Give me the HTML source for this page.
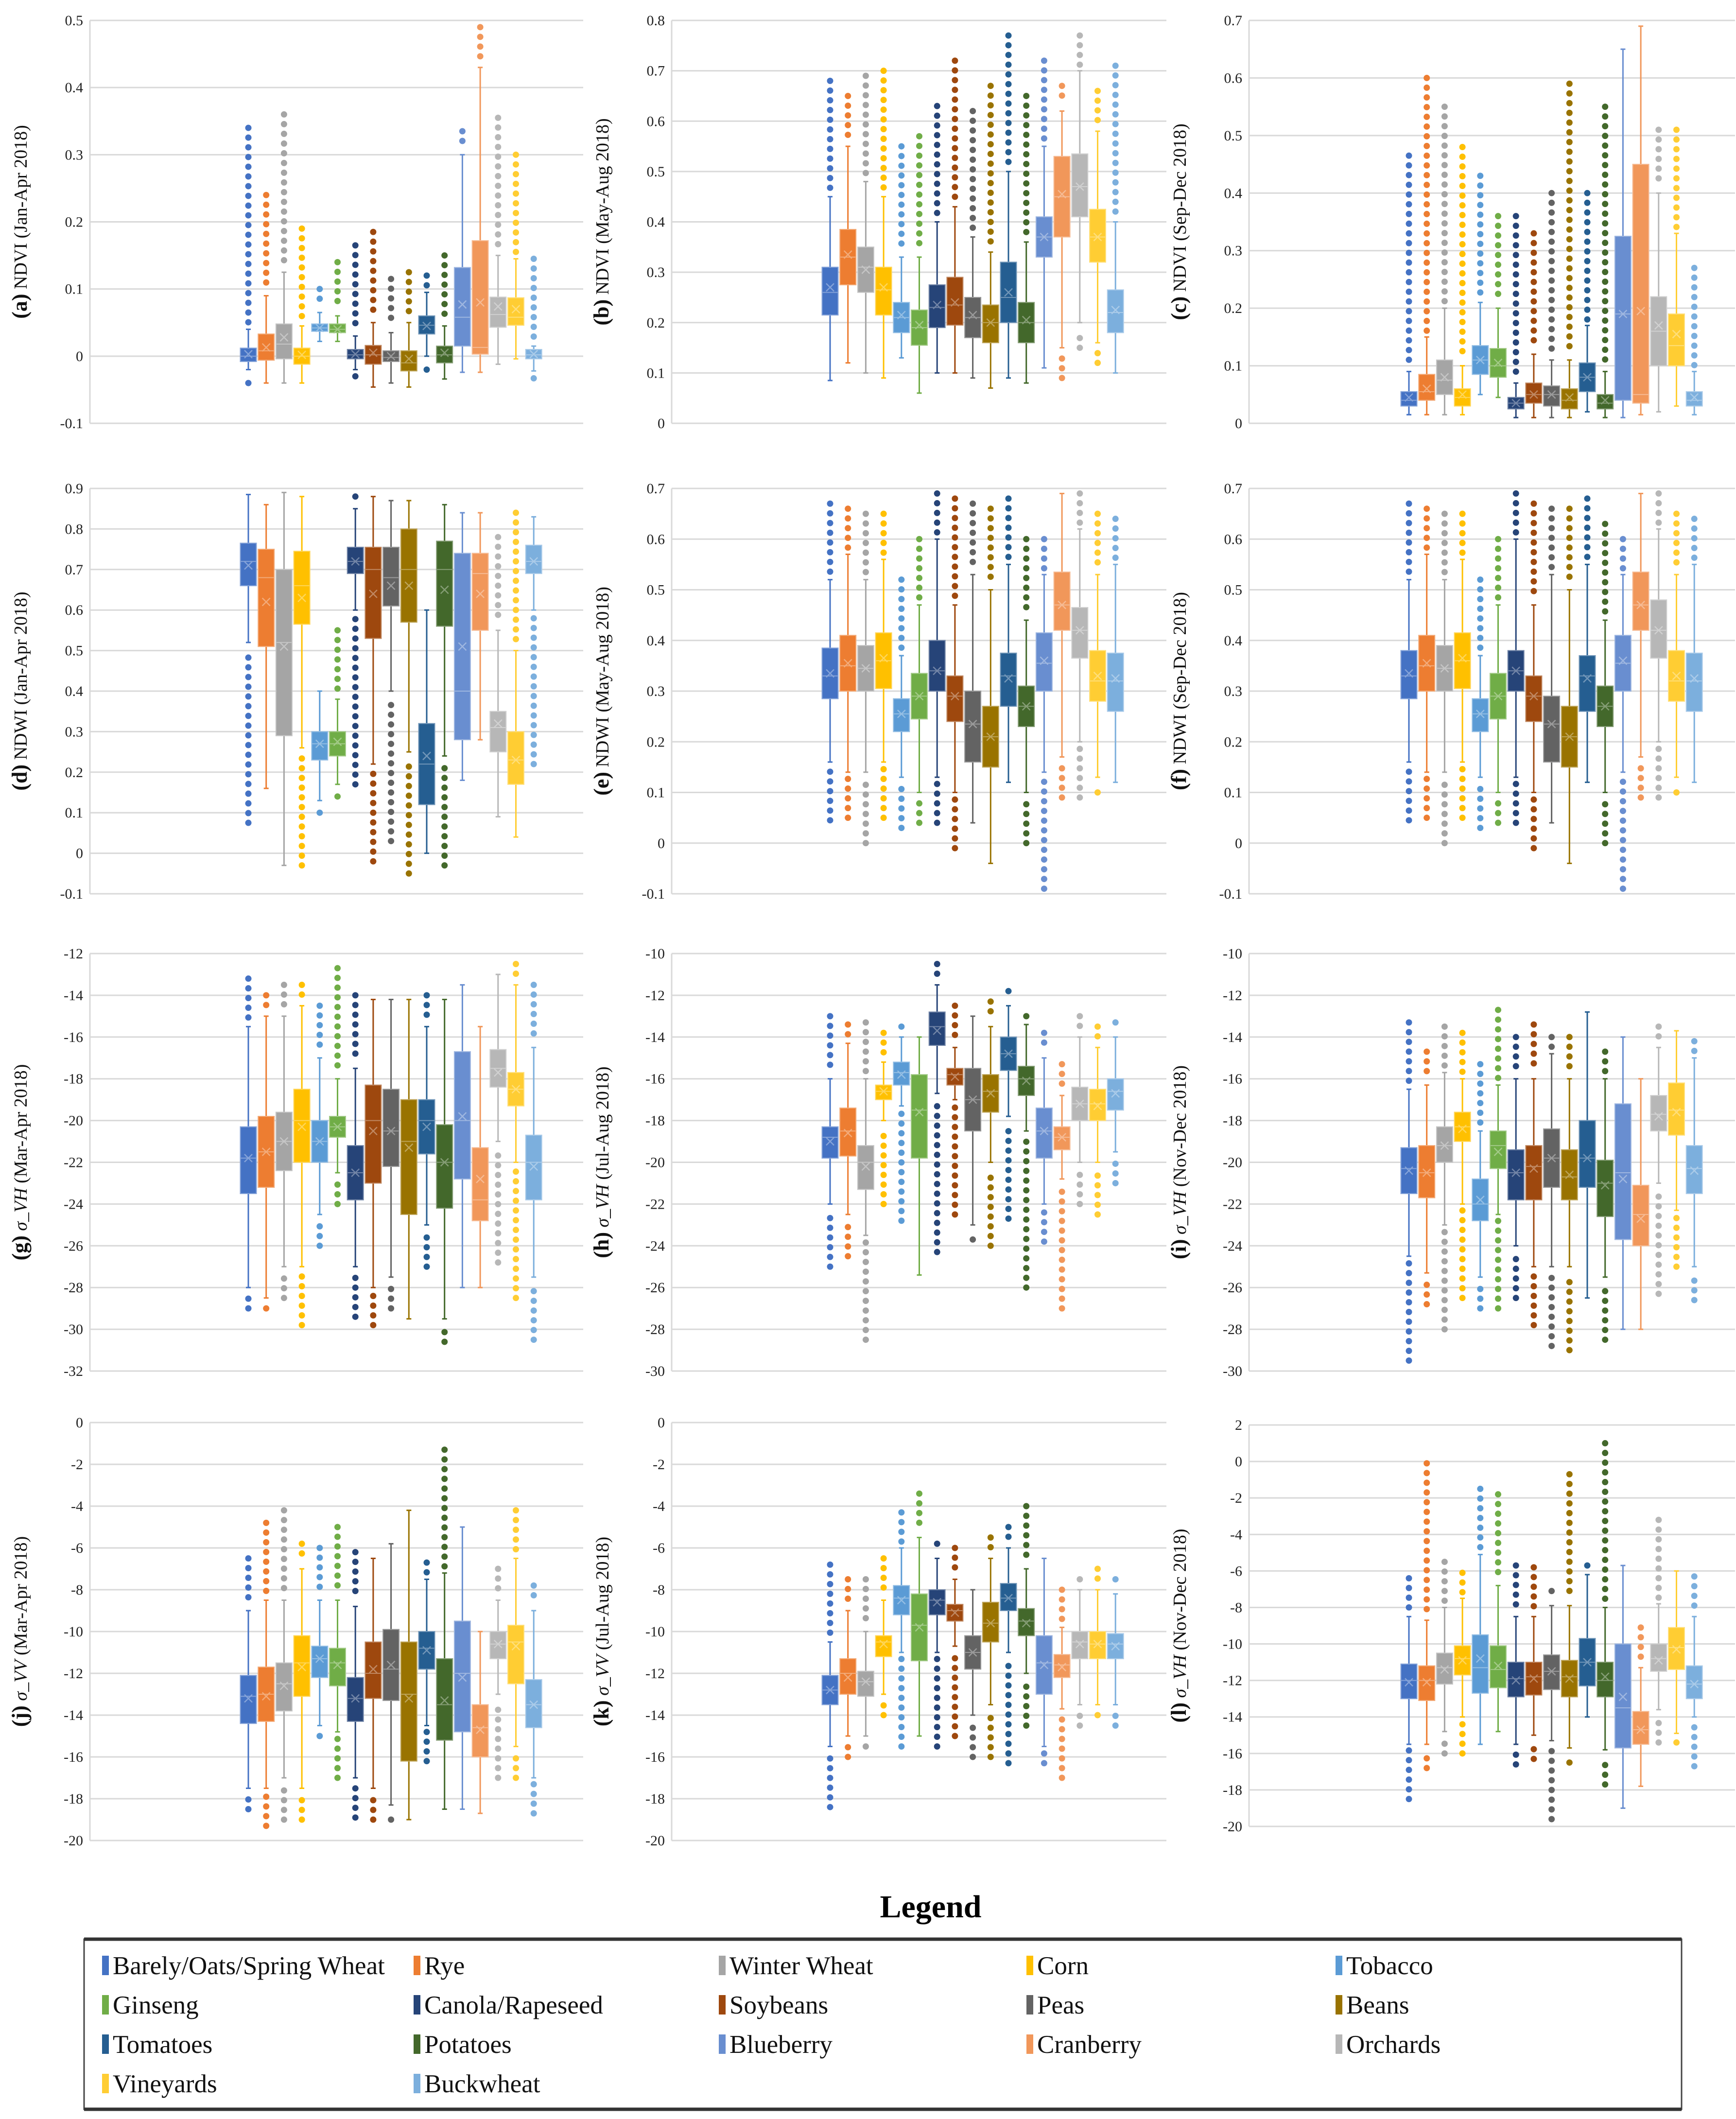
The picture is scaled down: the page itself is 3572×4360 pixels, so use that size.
<!DOCTYPE html>
<html><head><meta charset="utf-8">
<style>
html,body{margin:0;padding:0;background:#fff;}
svg{display:block;font-family:"Liberation Serif",serif;}
</style></head>
<body>
<svg id="fig" width="3572" height="4360" viewBox="0 0 3572 4360" xmlns="http://www.w3.org/2000/svg">
<g id="panels"></g>
<g id="legend">
<text x="1915" y="3945" font-size="66" font-weight="bold" text-anchor="middle">Legend</text>
<rect x="173" y="3990" width="3287" height="350" fill="#fff" stroke="#444" stroke-width="3"/>
<line x1="173" y1="3990" x2="3460" y2="3990" stroke="#333" stroke-width="7"/>
<line x1="173" y1="4340" x2="3460" y2="4340" stroke="#333" stroke-width="7"/>
</g>
</svg>
<script>
const cats = ["Barely/Oats/Spring Wheat","Rye","Winter Wheat","Corn","Tobacco","Ginseng","Canola/Rapeseed","Soybeans","Peas","Beans","Tomatoes","Potatoes","Blueberry","Cranberry","Orchards","Vineyards","Buckwheat"];
const colors = ["#4472C4","#ED7D31","#A5A5A5","#FFC000","#5B9BD5","#70AD47","#264478","#9E480E","#636363","#997300","#255E91","#43682B","#698ED0","#F1975A","#B7B7B7","#FFCD33","#7CAFDD"];
// each row: [whiskerLo, q1, median, q3, whiskerHi, mean, outlierMin, outlierMax]
const a_stats=[[-0.02,-0.008,0,0.012,0.04,0.003,-0.04,0.34],[-0.04,-0.006,0.008,0.033,0.09,0.013,null,0.24],[-0.04,-0.004,0.018,0.048,0.125,0.028,null,0.36],[-0.04,-0.012,0,0.012,0.045,0.002,null,0.19],[0.022,0.037,0.042,0.048,0.065,0.042,null,0.10],[0.022,0.035,0.04,0.048,0.06,0.04,null,0.14],[-0.02,-0.004,0.002,0.01,0.03,0.003,-0.03,0.165],[-0.046,-0.012,0.002,0.016,0.05,0.005,null,0.185],[-0.04,-0.008,-0.002,0.008,0.035,0,null,0.115],[-0.046,-0.022,-0.01,0.008,0.05,-0.004,null,0.125],[0,0.033,0.046,0.06,0.095,0.045,-0.02,0.12],[-0.034,-0.01,0.002,0.015,0.045,0.005,null,0.15],[-0.024,0.015,0.058,0.132,0.30,0.077,null,0.335],[-0.024,0.003,0.013,0.172,0.43,0.08,null,0.49],[-0.012,0.043,0.062,0.088,0.15,0.074,null,0.355],[-0.004,0.046,0.058,0.087,0.145,0.07,null,0.30],[-0.022,-0.004,0.002,0.01,0.015,0.003,-0.033,0.145]];
const b_stats=[[0.085,0.215,0.26,0.31,0.45,0.27,null,0.68],[0.12,0.275,0.33,0.385,0.55,0.335,null,0.65],[0.1,0.26,0.31,0.35,0.48,0.305,null,0.69],[0.09,0.215,0.265,0.31,0.45,0.27,null,0.70],[0.13,0.18,0.21,0.24,0.33,0.215,null,0.55],[0.06,0.155,0.19,0.225,0.33,0.195,null,0.57],[0.1,0.19,0.23,0.275,0.4,0.235,null,0.63],[0.1,0.195,0.235,0.29,0.43,0.24,null,0.72],[0.09,0.17,0.21,0.25,0.37,0.215,null,0.62],[0.07,0.16,0.2,0.235,0.34,0.2,null,0.67],[0.09,0.2,0.25,0.32,0.5,0.26,null,0.77],[0.08,0.16,0.2,0.24,0.36,0.205,null,0.65],[0.11,0.33,0.37,0.41,0.55,0.37,0.10,0.72],[0.15,0.37,0.45,0.53,0.62,0.455,0.09,0.67],[0.2,0.41,0.47,0.535,0.7,0.47,0.15,0.77],[0.16,0.32,0.37,0.425,0.58,0.37,0.12,0.66],[0.1,0.18,0.22,0.265,0.4,0.225,null,0.71]];
const c_stats=[[0.015,0.03,0.04,0.055,0.09,0.045,null,0.465],[0.015,0.04,0.055,0.085,0.15,0.06,null,0.6],[0.015,0.05,0.075,0.11,0.2,0.08,null,0.55],[0.015,0.03,0.045,0.06,0.1,0.05,null,0.48],[0.05,0.085,0.11,0.135,0.21,0.11,null,0.43],[0.045,0.08,0.1,0.13,0.2,0.105,null,0.36],[0.01,0.025,0.035,0.045,0.07,0.035,null,0.36],[0.01,0.035,0.05,0.07,0.12,0.05,null,0.33],[0.01,0.03,0.05,0.065,0.11,0.05,null,0.4],[0.01,0.025,0.04,0.06,0.11,0.045,null,0.59],[0.02,0.055,0.08,0.105,0.17,0.08,null,0.4],[0.01,0.025,0.035,0.05,0.09,0.04,null,0.55],[0.01,0.04,0.19,0.325,0.65,0.19,null,null],[0.015,0.035,0.05,0.45,0.69,0.195,null,null],[0.02,0.1,0.16,0.22,0.4,0.17,null,0.51],[0.03,0.1,0.135,0.19,0.33,0.155,null,0.51],[0.015,0.03,0.04,0.055,0.09,0.045,null,0.27]];
const d_stats=[[0.52,0.66,0.72,0.765,0.885,0.71,0.075,null],[0.16,0.51,0.68,0.75,0.86,0.62,null,null],[-0.03,0.29,0.52,0.7,0.89,0.51,null,null],[0.26,0.565,0.66,0.745,0.88,0.63,-0.03,null],[0.13,0.23,0.27,0.3,0.4,0.27,0.1,null],[0.17,0.24,0.27,0.3,0.38,0.275,0.14,0.55],[0.6,0.69,0.72,0.755,0.85,0.72,0.17,0.88],[0.22,0.53,0.7,0.755,0.88,0.64,-0.02,null],[0.4,0.61,0.68,0.755,0.87,0.66,0.03,null],[0.25,0.57,0.7,0.8,0.87,0.66,-0.05,null],[0,0.12,0.22,0.32,0.6,0.24,null,null],[0.24,0.56,0.7,0.77,0.86,0.65,-0.03,null],[0.18,0.28,0.4,0.74,0.84,0.51,null,null],[0.28,0.55,0.69,0.74,0.84,0.64,null,null],[0.09,0.25,0.31,0.35,0.55,0.32,0.08,0.78],[0.04,0.17,0.23,0.3,0.5,0.23,null,0.84],[0.6,0.69,0.72,0.76,0.83,0.72,0.22,null]];
const e_stats=[[0.16,0.285,0.33,0.385,0.52,0.335,0.045,0.67],[0.14,0.3,0.35,0.41,0.57,0.355,0.05,0.66],[0.14,0.3,0.345,0.39,0.52,0.345,0.0,0.65],[0.16,0.305,0.36,0.415,0.56,0.365,0.05,0.65],[0.13,0.22,0.255,0.285,0.37,0.255,0.03,0.52],[0.1,0.245,0.29,0.335,0.47,0.29,0.04,0.6],[0.13,0.3,0.34,0.4,0.6,0.34,0.04,0.69],[0.1,0.24,0.29,0.33,0.47,0.29,-0.01,0.68],[0.04,0.16,0.235,0.3,0.53,0.235,null,0.67],[-0.04,0.15,0.21,0.27,0.5,0.21,null,0.66],[0.12,0.27,0.33,0.375,0.55,0.325,null,0.68],[0.1,0.23,0.27,0.31,0.44,0.27,0.0,0.6],[0.14,0.3,0.355,0.415,0.53,0.36,-0.09,0.6],[0.17,0.42,0.47,0.535,0.69,0.47,0.09,null],[0.2,0.365,0.42,0.465,0.62,0.42,0.09,0.69],[0.13,0.28,0.32,0.38,0.53,0.33,0.1,0.65],[0.12,0.26,0.32,0.375,0.55,0.325,null,0.64]];
const f_stats=[[0.16,0.285,0.33,0.38,0.52,0.335,0.045,0.67],[0.14,0.3,0.35,0.41,0.57,0.355,0.05,0.66],[0.14,0.3,0.345,0.39,0.52,0.345,0.0,0.65],[0.16,0.305,0.36,0.415,0.56,0.365,0.05,0.65],[0.13,0.22,0.255,0.285,0.37,0.255,0.03,0.52],[0.1,0.245,0.29,0.335,0.47,0.29,0.04,0.6],[0.13,0.3,0.34,0.38,0.6,0.34,0.04,0.69],[0.1,0.24,0.29,0.33,0.47,0.29,-0.01,0.67],[0.04,0.16,0.235,0.29,0.53,0.235,null,0.66],[-0.04,0.15,0.21,0.27,0.5,0.21,null,0.66],[0.12,0.26,0.33,0.37,0.55,0.325,null,0.68],[0.1,0.23,0.27,0.31,0.44,0.27,0.0,0.63],[0.14,0.3,0.355,0.41,0.53,0.36,-0.09,0.6],[0.17,0.42,0.47,0.535,0.69,0.47,0.09,null],[0.2,0.365,0.42,0.48,0.62,0.42,0.09,0.69],[0.13,0.28,0.32,0.38,0.53,0.33,0.1,0.65],[0.12,0.26,0.32,0.375,0.55,0.325,null,0.64]];
const g_stats=[[-28,-23.5,-21.8,-20.3,-15.5,-21.8,-29,-13.2],[-28.5,-23.2,-21.5,-19.8,-15,-21.5,-29,-14],[-27,-22.4,-21,-19.6,-15,-21,-28.5,-13.5],[-27,-22,-20,-18.5,-14.5,-20.3,-29.8,-13.5],[-24.5,-22,-21,-20,-17,-21,-26,-14.5],[-22.5,-20.8,-20.3,-19.8,-18,-20.3,-24,-12.7],[-27,-23.8,-22.5,-21.2,-17.5,-22.5,-29.4,-14],[-28,-23,-20,-18.3,-14.2,-20.5,-29.8,null],[-27.5,-22.2,-20.5,-18.5,-14.2,-20.5,-29,null],[-29.5,-24.5,-21,-19,-14.2,-21.3,null,null],[-25,-21.6,-20,-19,-15.5,-20.3,-27,-14],[-29.5,-24.2,-22,-20.2,-14.2,-22,-30.6,null],[-28,-22.8,-20,-16.7,-13.5,-19.8,null,null],[-28,-24.8,-23.8,-21.3,-15.5,-22.8,null,null],[-21,-18.4,-17.5,-16.6,-13,-17.7,-26.8,null],[-22,-19.3,-18.5,-17.7,-13.5,-18.5,-28.5,-12.5],[-27.5,-23.8,-22,-20.7,-16.5,-22.2,-30.5,-13.5]];
const h_stats=[[-22,-19.8,-18.8,-18.3,-16,-19,-25,-13],[-22.5,-19.7,-18.5,-17.4,-14.3,-18.6,-24.5,-13.4],[-23.5,-21.3,-20,-19.2,-16,-20.2,-28.5,-13.3],[-18,-17,-16.6,-16.3,-15.2,-16.6,-22,-13.8],[-17.3,-16.3,-15.7,-15.2,-14,-15.8,-22.8,-13.5],[-25.4,-19.8,-17.5,-15.8,-14,-17.6,null,null],[-16.7,-14.4,-13.5,-12.8,-11.5,-13.7,-24.3,-10.5],[-17,-16.3,-15.8,-15.5,-14.5,-15.9,-22.5,-12.5],[-23,-18.5,-17,-15.5,-13,-17,-23.7,null],[-20,-17.6,-16.6,-15.8,-13.5,-16.7,-24,-12.3],[-17.8,-15.6,-14.8,-14,-12.5,-14.8,-22.7,-11.8],[-18.5,-16.8,-16,-15.4,-13.4,-16.1,-26,-13],[-22,-19.8,-18.5,-17.4,-15,-18.5,-23.8,-13.8],[-20.8,-19.4,-18.8,-18.3,-16.8,-18.8,-27,-15.3],[-20,-18,-17.2,-16.4,-14,-17.2,-22,-13],[-20,-18,-17.2,-16.5,-14.5,-17.3,-22.5,-13.5],[-19.5,-17.5,-16.6,-16,-14,-16.7,-21,-13.3]];
const i_stats=[[-24.5,-21.5,-20.3,-19.3,-16.5,-20.4,-29.5,-13.3],[-25.3,-21.7,-20.5,-19.2,-16.3,-20.5,-26.8,-14.7],[-23,-20,-19.2,-18.3,-15.7,-19.2,-28,-13.5],[-22,-19,-18.3,-17.6,-16,-18.4,-26.5,-13.8],[-25.5,-22.8,-22,-20.8,-18.5,-21.8,-27,-15.3],[-22.5,-20.3,-19.2,-18.5,-16.3,-19.5,-27,-12.7],[-24,-21.8,-20.5,-19.4,-16,-20.5,-26.5,-14],[-25,-21.8,-20.2,-19.2,-16,-20.3,-27.8,-13.4],[-25,-21.2,-19.8,-18.4,-14.8,-19.8,-28.8,-14],[-25,-21.8,-20.7,-19.4,-16,-20.6,-29,-14],[-26.5,-21.2,-19.8,-18,-12.8,-19.8,null,null],[-25.5,-22.6,-21,-19.9,-16,-21.1,-28.5,-14.7],[-28,-23.7,-20.5,-17.2,-14,-20.8,null,null],[-28,-24,-22.5,-21.1,-16,-22.7,null,null],[-21,-18.5,-17.7,-16.8,-14.5,-17.8,-26.3,-13.5],[-22.3,-18.7,-17.5,-16.2,-13.7,-17.6,-25,null],[-25,-21.5,-20.3,-19.2,-15,-20.4,-26.6,-14.2]];
const j_stats=[[-17.5,-14.4,-13.1,-12.1,-9,-13.2,-18.5,-6.5],[-17.5,-14.3,-13,-11.7,-8.5,-13.1,-19.3,-4.8],[-17,-13.8,-12.5,-11.5,-8.5,-12.6,-19,-4.2],[-17.5,-13.1,-11.5,-10.2,-7,-11.7,-19,-5.8],[-14.5,-12.2,-11.3,-10.7,-8.5,-11.3,-15,-6],[-14.8,-12.6,-11.5,-10.8,-8.5,-11.6,-17,-5],[-17,-14.3,-13.2,-12.2,-8.8,-13.2,-18.9,-6.2],[-17.5,-13.2,-12,-10.5,-6.5,-11.8,-19,null],[-18.3,-13.3,-11.8,-9.9,-5.8,-11.6,-19,null],[-19,-16.2,-13,-10.5,-4.2,-13.2,null,null],[-14.5,-11.8,-10.8,-10,-7.5,-10.9,-16.2,-6.7],[-18.5,-15.2,-13.5,-11.3,-7.2,-13.3,null,-1.3],[-18.5,-14.8,-12,-9.5,-5,-12.2,null,null],[-18.7,-16,-14.6,-13.5,-10,-14.7,null,null],[-13,-11.3,-10.6,-10,-8.5,-10.6,-17,-7],[-15.5,-12.5,-10.5,-9.7,-6.5,-10.7,-17,-4.2],[-17,-14.6,-13.5,-12.3,-9,-13.5,-18.7,-7.8]];
const k_stats=[[-15.5,-13.5,-12.8,-12.1,-10.5,-12.8,-18.4,-6.8],[-15,-13,-12,-11.3,-9,-12.2,-16,-7.5],[-15,-13.1,-12.4,-11.9,-10,-12.4,-15.5,-7.5],[-13,-11.2,-10.5,-10.2,-8.5,-10.6,-14,-6.5],[-11,-9.2,-8.4,-7.8,-6,-8.5,-15.5,-4.3],[-15,-11.4,-9.7,-8.2,-5.5,-9.8,null,-3.4],[-11,-9.2,-8.5,-8,-6.5,-8.6,-15.5,-5.8],[-10.7,-9.5,-9,-8.7,-7.5,-9.1,-15,-6],[-14,-11.8,-11,-10.2,-8,-11,-16,null],[-13.5,-10.5,-9.6,-8.6,-6.5,-9.6,-16,-5.5],[-11,-9,-8.4,-7.7,-6,-8.4,-16.3,-5],[-12,-10.2,-9.5,-8.9,-7,-9.6,-14.5,-4],[-15.5,-13,-11.5,-10.2,-6.5,-11.6,-16.3,null],[-13.7,-12.2,-11.6,-11.1,-9.8,-11.7,-17,-8],[-13.5,-11.3,-10.5,-10,-8,-10.6,-14.5,-7.5],[-13.5,-11.3,-10.6,-10,-8,-10.6,-14,-7],[-13.5,-11.3,-10.6,-10.1,-8.2,-10.7,-14.5,-7.5]];
const l_stats=[[-15.5,-13,-12,-11.1,-8.5,-12.1,-18.5,-6.4],[-15.5,-13.1,-12,-11.2,-8.7,-12.1,-16.8,-0.1],[-14.8,-12.2,-11.3,-10.5,-8,-11.4,-16,-5.5],[-14,-11.7,-10.8,-10.1,-7.5,-10.9,-16,-6.1],[-15.5,-12.7,-11.3,-9.5,-5.1,-10.8,null,-1.5],[-14.8,-12.4,-11.4,-10.1,-6.8,-11.2,null,-1.8],[-15.5,-12.9,-11.9,-11,-8.5,-12,-16.6,-5.7],[-15,-12.8,-11.8,-11,-8.5,-11.9,-16.3,-5.8],[-15.3,-12.5,-11.5,-10.6,-7.9,-11.5,-19.6,-7.1],[-15.7,-12.9,-11.8,-10.9,-7.9,-11.9,-16.5,-0.7],[-14,-12.3,-11,-9.7,-6.2,-11,null,-5.7],[-15.8,-12.9,-12,-11,-8,-11.8,-17.7,1],[-19,-15.7,-13.5,-10,-5.7,-12.9,null,null],[-17.8,-15.5,-14.7,-13.7,-11.3,-14.7,null,-9.1],[-13.6,-11.5,-10.8,-10,-7.8,-10.9,-15.4,-3.2],[-14.9,-11.4,-10.2,-9.1,-6,-10.3,-15.4,null],[-14,-13,-12.2,-11.2,-8.5,-12.2,-16.7,-6.3]];
const yTicksA=[0.5,0.4,0.3,0.2,0.1,0,-0.1];
const yTicksB=[0.8,0.7,0.6,0.5,0.4,0.3,0.2,0.1,0];
const yTicksC=[0.7,0.6,0.5,0.4,0.3,0.2,0.1,0];
const yTicksD=[0.9,0.8,0.7,0.6,0.5,0.4,0.3,0.2,0.1,0,-0.1];
const yTicksE=[0.7,0.6,0.5,0.4,0.3,0.2,0.1,0,-0.1];
const yTicksG=[-12,-14,-16,-18,-20,-22,-24,-26,-28,-30,-32];
const yTicksH=[-10,-12,-14,-16,-18,-20,-22,-24,-26,-28,-30];
const yTicksJ=[0,-2,-4,-6,-8,-10,-12,-14,-16,-18,-20];
const yTicksL=[2,0,-2,-4,-6,-8,-10,-12,-14,-16,-18,-20];

const NS="http://www.w3.org/2000/svg";
function mk(tag,attrs,parent){const e=document.createElementNS(NS,tag);for(const k in attrs)e.setAttribute(k,attrs[k]);parent.appendChild(e);return e;}
function lighten(hex,f){const n=parseInt(hex.slice(1),16);let r=n>>16,g=(n>>8)&255,b=n&255;r=Math.round(r+(255-r)*f);g=Math.round(g+(255-g)*f);b=Math.round(b+(255-b)*f);return `rgb(${r},${g},${b})`;}
const colX0=[185,1382,2570], colX1=[1200,2400,3570];
const rows=[[42,871],[1005,1839],[1962,2821],[2927,3787]];
const panels=[
 {id:"a",lab:"(a)",t:" NDVI (Jan-Apr 2018)",s:a_stats,ticks:yTicksA,c:0,r:0},
 {id:"b",lab:"(b)",t:" NDVI (May-Aug 2018)",s:b_stats,ticks:yTicksB,c:1,r:0},
 {id:"c",lab:"(c)",t:" NDVI (Sep-Dec 2018)",s:c_stats,ticks:yTicksC,c:2,r:0},
 {id:"d",lab:"(d)",t:" NDWI (Jan-Apr 2018)",s:d_stats,ticks:yTicksD,c:0,r:1},
 {id:"e",lab:"(e)",t:" NDWI (May-Aug 2018)",s:e_stats,ticks:yTicksE,c:1,r:1},
 {id:"f",lab:"(f)",t:" NDWI (Sep-Dec 2018)",s:f_stats,ticks:yTicksE,c:2,r:1},
 {id:"g",lab:"(g)",sig:"VH",t:" (Mar-Apr 2018)",s:g_stats,ticks:yTicksG,c:0,r:2},
 {id:"h",lab:"(h)",sig:"VH",t:" (Jul-Aug 2018)",s:h_stats,ticks:yTicksH,c:1,r:2},
 {id:"i",lab:"(i)",sig:"VH",t:" (Nov-Dec 2018)",s:i_stats,ticks:yTicksH,c:2,r:2},
 {id:"j",lab:"(j)",sig:"VV",t:" (Mar-Apr 2018)",s:j_stats,ticks:yTicksJ,c:0,r:3},
 {id:"k",lab:"(k)",sig:"VV",t:" (Jul-Aug 2018)",s:k_stats,ticks:yTicksJ,c:1,r:3},
 {id:"l",lab:"(l)",sig:"VH",t:" (Nov-Dec 2018)",s:l_stats,ticks:yTicksL,c:2,r:3,y0:2932,y1:3758}
];
const root=document.getElementById('panels');
panels.forEach(p=>{
  const g=mk('g',{},root);
  
  
  const x0=colX0[p.c],x1=colX1[p.c];
  const yt=p.y0||rows[p.r][0], yb=p.y1||rows[p.r][1];
  const vmax=p.ticks[0], vmin=p.ticks[p.ticks.length-1];
  const Y=v=>yt+(vmax-v)/(vmax-vmin)*(yb-yt);
  const dec=Math.abs(vmax)<1.5&&Math.abs(vmin)<1.5?1:0;
  p.ticks.forEach(t=>{
    const gl=mk('line',{x1:x0,x2:x1,y1:Y(t),y2:Y(t),stroke:"#d9d9d9","stroke-width":3},g);
    
    
    const tx=mk('text',{x:x0-14,y:Y(t)+10,"font-size":30,"text-anchor":"end",fill:"#222"},g);
    
    
    tx.textContent=(t===0?"0":t.toFixed(dec));
  });
  mk('line',{x1:x0,x2:x0,y1:yt,y2:yb,stroke:"#d9d9d9","stroke-width":3},g);
  const tx0=x0-130, ty=(yt+yb)/2;
  const tt=mk('text',{x:tx0,y:ty,"font-size":38,"text-anchor":"middle",transform:`rotate(-90 ${tx0} ${ty})`,fill:"#111"},g);
  
  
  const b=mk('tspan',{"font-weight":"bold","font-size":44},tt);b.textContent=p.lab;
  if(p.sig){const s=mk('tspan',{"font-style":"italic"},tt);s.textContent=" σ_"+p.sig;}
  const rest=mk('tspan',{},tt);rest.textContent=p.t;
  const offs=p.c===2?329:326, sp=36.7, bw=33;
  p.s.forEach((d,i)=>{
    const [lo,q1,md,q3,hi,mn,oLo,oHi]=d;
    const cx=x0+offs+i*sp, col=colors[i], lc=lighten(col,0.35);
    const bg=mk('g',{},g);
    
    
    mk('line',{x1:cx,x2:cx,y1:Y(hi),y2:Y(q3),stroke:col,"stroke-width":3},bg);
    mk('line',{x1:cx,x2:cx,y1:Y(q1),y2:Y(lo),stroke:col,"stroke-width":3},bg);
    mk('line',{x1:cx-5,x2:cx+5,y1:Y(hi),y2:Y(hi),stroke:col,"stroke-width":3},bg);
    mk('line',{x1:cx-5,x2:cx+5,y1:Y(lo),y2:Y(lo),stroke:col,"stroke-width":3},bg);
    const r=Math.max(Y(q1)-Y(q3),3);
    mk('rect',{x:cx-bw/2,y:Y(q3),width:bw,height:r,fill:col,stroke:lc,"stroke-width":2},bg);
    mk('line',{x1:cx-bw/2,x2:cx+bw/2,y1:Y(md),y2:Y(md),stroke:lc,"stroke-width":2},bg);
    const my=Y(mn);
    mk('path',{d:`M${cx-8} ${my-8}L${cx+8} ${my+8}M${cx-8} ${my+8}L${cx+8} ${my-8}`,stroke:lc,"stroke-width":2.5,fill:"none"},bg);
    const dotStep=20;
    if(oHi!==null){for(let y=Y(oHi);y<Y(hi)-12;y+=dotStep){mk('circle',{cx:cx,cy:y,r:6.5,fill:col},bg);}}
    if(oLo!==null){for(let y=Y(oLo);y>Y(lo)+12;y-=dotStep){mk('circle',{cx:cx,cy:y,r:6.5,fill:col},bg);}}
  });
});
const lg=document.getElementById('legend');
const lgX=[210,851,1479,2112,2748], lgY=[4046,4127,4208,4289];
cats.forEach((c,i)=>{
  const x=lgX[i%5], y=lgY[Math.floor(i/5)];
  const e=mk('g',{},lg);
  
  
  mk('rect',{x:x,y:y-22,width:14,height:40,fill:colors[i]},e);
  const t=mk('text',{x:x+22,y:y+16,"font-size":53,fill:"#111"},e);
  t.textContent=c;
});
</script>
</body></html>
